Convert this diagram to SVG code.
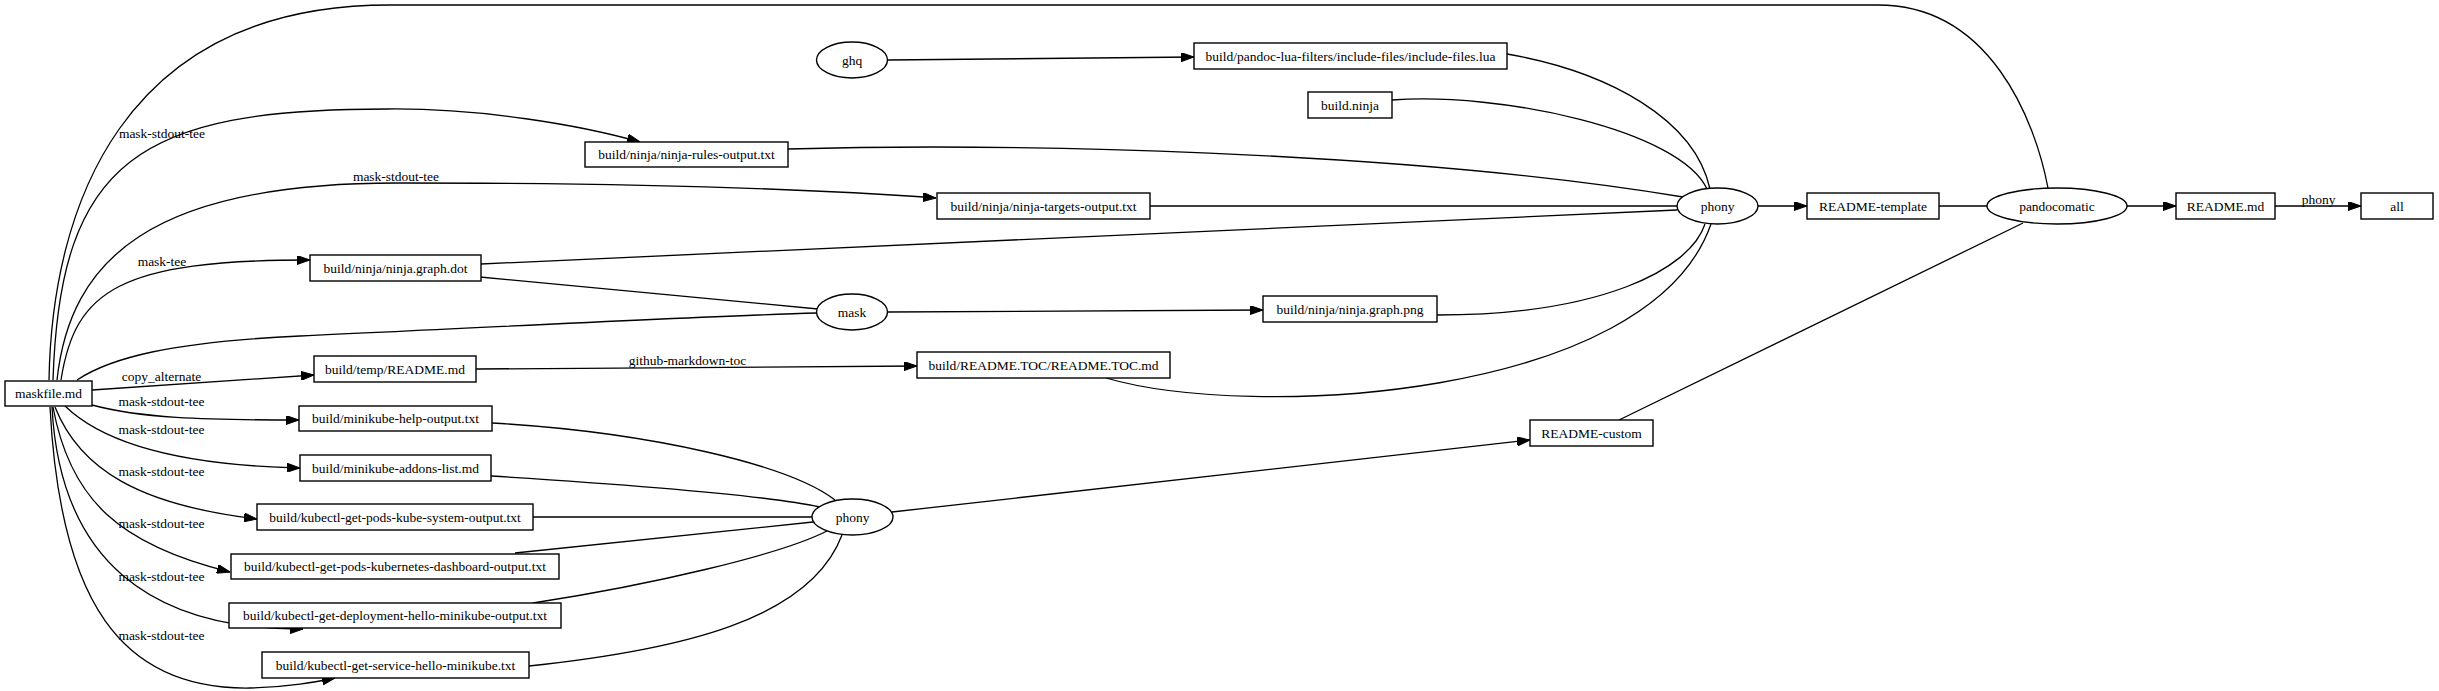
<svg xmlns="http://www.w3.org/2000/svg" width="2439" height="691" viewBox="0 0 2439 691">
<style>
text{font-family:"Liberation Serif","Times New Roman",serif;font-size:13.5px;fill:#000;text-anchor:middle}
.n rect,.n ellipse{fill:#fff;stroke:#000;stroke-width:1.4}
#edges path{fill:none;stroke:#000;stroke-width:1.3}
#edges path.a{marker-end:url(#arr)}
</style>
<defs>
<marker id="arr" viewBox="0 0 13 9" refX="13" refY="4.5" markerWidth="13" markerHeight="9" markerUnits="userSpaceOnUse" orient="auto">
<path d="M0,0 L13,4.5 L0,9 z" fill="#000" stroke="#000" stroke-width="1"/>
</marker>
</defs>
<rect width="2439" height="691" fill="#fff"/>
<g id="edges">
<path d="M49,380 C52,210 120,5 390,5 L1878,5 C1990,5 2035,120 2048,188"/>
<path class="a" d="M53,380 C60,160 140,109 387,109 C480,108 580,125 640,142"/>
<path class="a" d="M57,380 C70,260 150,183 397,183 C600,183 800,188 936,198"/>
<path class="a" d="M61,380 C75,290 120,260 310,260"/>
<path d="M77,380 C110,358 170,342 300,336 C500,327 700,316 817,313"/>
<path class="a" d="M92,390 L314,375"/>
<path class="a" d="M92,405 C140,418 200,420 299,420"/>
<path class="a" d="M65,406 C100,440 170,465 300,468"/>
<path class="a" d="M55,407 C80,470 140,505 257,519"/>
<path class="a" d="M53,407 C70,500 120,545 230,572"/>
<path class="a" d="M52,407 C60,560 150,630 303,629"/>
<path class="a" d="M50,407 C60,600 120,690 250,688 C290,687 315,682 335,678"/>
<path class="a" d="M888,60 L1194,57"/>
<path class="a" d="M888,312 L1263,310"/>
<path class="a" d="M476,369 L917,366"/>
<path d="M480,277 L818,309"/>
<path d="M1507,54 C1610,72 1695,120 1710,189"/>
<path d="M1392,100 C1500,92 1680,130 1707,189"/>
<path d="M788,149 C1000,143 1400,150 1683,197"/>
<path d="M1150,206 L1677,206"/>
<path d="M481,264 L1677,210"/>
<path d="M1437,315 C1600,315 1690,270 1705,224"/>
<path d="M1106,378 C1250,420 1650,400 1711,224"/>
<path class="a" d="M1758,206 L1807,206"/>
<path d="M1939,206 L1987,206"/>
<path d="M1619,420 L2023,223"/>
<path class="a" d="M2127,206 L2176,206"/>
<path class="a" d="M2275,206 L2361,206"/>
<path d="M492,423 C650,432 790,465 835,500"/>
<path d="M491,476 C620,484 760,494 820,507"/>
<path d="M533,517 L812,517"/>
<path d="M515,553 L813,522"/>
<path d="M533,603 C650,585 780,555 827,531"/>
<path d="M529,666 C680,650 810,620 842,535"/>
<path class="a" d="M892,512 L1530,440"/>
<text x="162" y="137.5">mask-stdout-tee</text>
<text x="396" y="180.5">mask-stdout-tee</text>
<text x="162" y="265.5">mask-tee</text>
<text x="161.5" y="380.5">copy_alternate</text>
<text x="161.5" y="406">mask-stdout-tee</text>
<text x="161.5" y="433.5">mask-stdout-tee</text>
<text x="161.5" y="476">mask-stdout-tee</text>
<text x="161.5" y="527.5">mask-stdout-tee</text>
<text x="161.5" y="581">mask-stdout-tee</text>
<text x="161.5" y="639.5">mask-stdout-tee</text>
<text x="687.5" y="365">github-markdown-toc</text>
<text x="2318.5" y="203.5">phony</text>
</g>
<g id="maskfile" class="n"><rect x="5" y="381" width="87" height="25"/><text x="48.5" y="398">maskfile.md</text></g>
<g id="ninja-rules" class="n"><rect x="585" y="142" width="203" height="25"/><text x="686.5" y="159">build/ninja/ninja-rules-output.txt</text></g>
<g id="ninja-targets" class="n"><rect x="937" y="193" width="213" height="26"/><text x="1043.5" y="210.5">build/ninja/ninja-targets-output.txt</text></g>
<g id="ninja-graph-dot" class="n"><rect x="310" y="255" width="171" height="26"/><text x="395.5" y="272.5">build/ninja/ninja.graph.dot</text></g>
<g id="temp-readme" class="n"><rect x="314" y="356" width="162" height="26"/><text x="395" y="373.5">build/temp/README.md</text></g>
<g id="minikube-help" class="n"><rect x="299" y="406" width="193" height="25"/><text x="395.5" y="423">build/minikube-help-output.txt</text></g>
<g id="minikube-addons" class="n"><rect x="300" y="455" width="191" height="26"/><text x="395.5" y="472.5">build/minikube-addons-list.md</text></g>
<g id="kube-system" class="n"><rect x="257" y="504" width="276" height="26"/><text x="395" y="521.5">build/kubectl-get-pods-kube-system-output.txt</text></g>
<g id="dashboard" class="n"><rect x="231" y="554" width="328" height="25"/><text x="395" y="571">build/kubectl-get-pods-kubernetes-dashboard-output.txt</text></g>
<g id="deployment" class="n"><rect x="229" y="603" width="332" height="25"/><text x="395" y="620">build/kubectl-get-deployment-hello-minikube-output.txt</text></g>
<g id="service" class="n"><rect x="262" y="652" width="267" height="26"/><text x="395.5" y="669.5">build/kubectl-get-service-hello-minikube.txt</text></g>
<g id="ghq" class="n"><ellipse cx="852" cy="60" rx="35.5" ry="18"/><text x="852" y="64.5">ghq</text></g>
<g id="include-files" class="n"><rect x="1194" y="43" width="313" height="26"/><text x="1350.5" y="60.5">build/pandoc-lua-filters/include-files/include-files.lua</text></g>
<g id="build-ninja" class="n"><rect x="1308" y="92" width="84" height="26"/><text x="1350" y="109.5">build.ninja</text></g>
<g id="mask" class="n"><ellipse cx="852" cy="312" rx="35.5" ry="18"/><text x="852" y="316.5">mask</text></g>
<g id="ninja-graph-png" class="n"><rect x="1263" y="296" width="174" height="26"/><text x="1350" y="313.5">build/ninja/ninja.graph.png</text></g>
<g id="readme-toc" class="n"><rect x="917" y="352" width="253" height="26"/><text x="1043.5" y="369.5">build/README.TOC/README.TOC.md</text></g>
<g id="phony-lower" class="n"><ellipse cx="852.5" cy="517" rx="40.5" ry="18"/><text x="852.5" y="521.5">phony</text></g>
<g id="readme-custom" class="n"><rect x="1530" y="420" width="123" height="26"/><text x="1591.5" y="437.5">README-custom</text></g>
<g id="phony-upper" class="n"><ellipse cx="1717.5" cy="206" rx="40.5" ry="18"/><text x="1717.5" y="210.5">phony</text></g>
<g id="readme-template" class="n"><rect x="1807" y="193" width="132" height="26"/><text x="1873" y="210.5">README-template</text></g>
<g id="pandocomatic" class="n"><ellipse cx="2057" cy="206" rx="70" ry="18"/><text x="2057" y="210.5">pandocomatic</text></g>
<g id="readme-md" class="n"><rect x="2176" y="193" width="99" height="26"/><text x="2225.5" y="210.5">README.md</text></g>
<g id="all" class="n"><rect x="2361" y="193" width="72" height="26"/><text x="2397" y="210.5">all</text></g>
</svg>
